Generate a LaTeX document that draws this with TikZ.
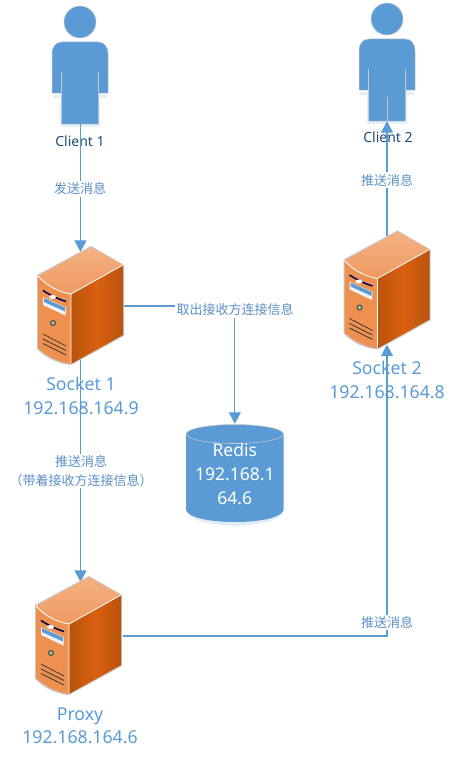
\documentclass[tikz,border=0pt]{standalone}
\usepackage{fontspec}
\setmainfont{Noto Sans}
\newfontfamily\cjk{Noto Sans CJK SC}
\usetikzlibrary{arrows.meta}
\definecolor{bluefill}{HTML}{5B9BD5}
\definecolor{labelblue}{HTML}{5A8FC8}
\definecolor{capblue}{HTML}{5B9BD5}
\definecolor{darktext}{HTML}{1F4E79}
\definecolor{ofront}{HTML}{EE9050}
\definecolor{otopa}{HTML}{F4B183}
\definecolor{otopb}{HTML}{EF9A62}
\definecolor{osidea}{HTML}{D9600F}
\definecolor{osideb}{HTML}{B9540E}
\definecolor{edgegrey}{HTML}{C8C8C8}
\tikzset{
  x=1pt,y=-1pt,
  conn/.style={draw=bluefill,line width=1.3pt},
  arr/.style={conn,-{Triangle[length=11.5pt,width=12pt]}},
  edgelabel/.style={fill=white,inner sep=1.5pt,font=\cjk\fontsize{13}{18.5}\selectfont,text=labelblue,align=center},
  caption/.style={font=\fontsize{17.7}{23.5}\selectfont,text=capblue,align=center,inner sep=0pt},
  clientlabel/.style={font=\fontsize{14}{16}\selectfont,text=darktext,inner sep=0pt},
  bodyfig/.style={fill=bluefill,draw=edgegrey,line width=0.5pt},
  srvbox/.style={inner sep=0pt,minimum width=85pt,minimum height=108pt},
  personbox/.style={inner sep=0pt,minimum width=56pt,minimum height=118pt},
}
% x, y (feet), node name, x offset of the node
\newcommand{\personfig}[4]{%
  \begin{scope}[shift={(#1,#2)}]
    \fill[bluefill!15] (-27,-29) -- (27,-29) -- (27,-26) -- (20,-26) -- (20,3) -- (-20,3) -- (-20,-26) -- (-27,-26) -- cycle;
    \draw[bodyfig] (0,-102) circle (16);
    \draw[bodyfig] (-28,-70) .. controls (-28,-78) and (-24,-82) .. (-18,-82) -- (18,-82)
       .. controls (24,-82) and (28,-78) .. (28,-70) -- (28,-31) -- (18.5,-31) -- (18.5,0)
       -- (-18.5,0) -- (-18.5,-31) -- (-28,-31) -- cycle;
    \draw[edgegrey,line width=0.5pt] (-18.5,-52) -- (-18.5,-31) (18.5,-52) -- (18.5,-31) (0,-24) -- (0,0);
    \node[personbox] (#3) at (#4,-59) {};
  \end{scope}}
% artwork only, at an offset
\newcommand{\serverart}[2]{%
  \begin{scope}[shift={(#1,#2)}]
    \fill[edgegrey] (91,246) -- (124,265) -- (124,336) -- (71,365) .. controls (58,364) and (46,358) .. (37,349) -- (37,275) -- cycle;
    \shade[top color=otopa,bottom color=otopb] (91,247) -- (123,265) -- (71,294) .. controls (58,292) and (46,285) .. (38,276) -- cycle;
    \fill[ofront] (38,276) .. controls (46,285) and (58,292) .. (71,294) -- (71,364) .. controls (58,362) and (46,356) .. (38,348) -- cycle;
    \shade[left color=osideb,right color=osideb,middle color=osidea] (71,294) -- (123,265) -- (123,335) -- (71,364) -- cycle;
    \draw[white,line width=0.8pt] (38,276) .. controls (46,285) and (58,292) .. (71,294) -- (123,265) (71,294) -- (71,364);
    \fill[white!90!gray] (43,297) -- (66,307.5) -- (65.5,315.5) -- (43,305) -- cycle;
    \fill[bluefill] (44,298) -- (65,307.5) -- (65,311.5) -- (44,302) -- cycle;
    \draw[black!65!blue,line width=1.5pt] (43,290.5) .. controls (50,295) and (58,299) .. (66,301.5);
    \fill[white] (52.5,297) ellipse (3.5 and 2);
    \fill[black!70] (53,323) circle (3);
    \fill[green!25!gray!50] (53,323) circle (1.8);
    \draw[black!80,line width=0.7pt]
      (43,334) -- (66,346) (43,339) -- (66,350.5) (43,343.5) -- (66,355) ;
  \end{scope}}
\begin{document}
\begin{tikzpicture}
\useasboundingbox (0,0) rectangle (456,760);
\fill[white] (0,0) rectangle (456,760);
% people
\personfig{80}{124}{personone}{0.5}
\personfig{387}{121}{persontwo}{0}
\node[clientlabel] (clientone) at (80,141) {Client 1};
\node[clientlabel] (clienttwo) at (388,137) {Client 2};
% server placeholders
\node[srvbox] (srvone) at (80.5,306) {};
\node[srvbox] (srvtwo) at (387,290.5) {};
\node[srvbox] (srvproxy) at (80.5,636) {};
% captions
\node[caption] (socketone) at (81,396) {Socket 1\\192.168.164.9};
\node[caption] (sockettwo) at (387,380) {Socket 2\\192.168.164.8};
\node[caption] (proxylabel) at (80,726) {Proxy\\192.168.164.6};
% redis
\fill[bluefill!18] (188,440) -- (188,513) .. controls (196,530) and (274,530) .. (282,513) -- (282,440) -- cycle;
\fill[bluefill] (186,434) -- (186,510) .. controls (190,526) and (280,526) .. (283.5,510) -- (283.5,434) -- cycle;
\draw[fill=bluefill,draw=edgegrey,line width=0.6pt] (234.8,434) ellipse (48.7 and 9.5);
\node[font=\fontsize{17.5}{24}\selectfont,text=white,align=center,inner sep=0pt,minimum width=97pt,minimum height=99pt] (redis) at (234.8,473.5) {Redis\\192.168.1\\64.6};
% connectors
\draw[arr] ([yshift=24pt]personone.south) -- (srvone.north);
\draw[arr] (srvone.east) -| (redis.north);
\draw[arr] (srvone.south) -- (srvproxy.north);
\draw[arr] (srvproxy.east) -| (srvtwo.south);
\draw[arr] (srvtwo.north) -- (persontwo.south);
% server artwork on top of connector ends
\serverart{0}{0}
\serverart{306.5}{-15.5}
\serverart{-2}{330}
% edge labels
\node[edgelabel] (lblsend) at (80,189) {发送消息};
\node[edgelabel] (lblfetch) at (235,310) {取出接收方连接信息};
\node[edgelabel] (lblpush) at (81,471) {推送消息\\（带着接收方连接信息）};
\node[edgelabel] (lblproxy) at (387,622.5) {推送消息};
\node[edgelabel] (lbltwo) at (387,180) {推送消息};
\end{tikzpicture}
\end{document}
